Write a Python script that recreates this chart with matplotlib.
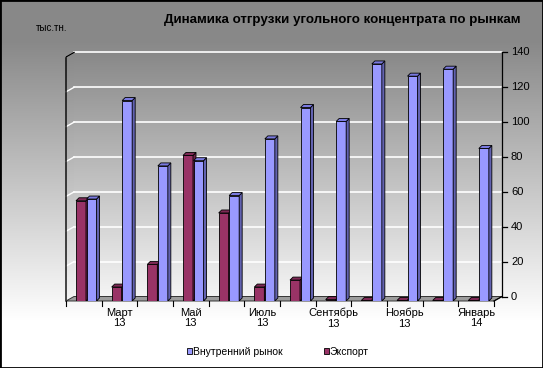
import numpy as np
import matplotlib
matplotlib.use('Agg')
import matplotlib.pyplot as plt
from matplotlib.patches import Polygon, Rectangle

plt.rcParams['font.family'] = ['Liberation Sans', 'DejaVu Sans']

# ---- data ----
months = ['Февраль\n13', 'Март\n13', 'Апрель\n13', 'Май\n13', 'Июнь\n13', 'Июль\n13',
          'Август\n13', 'Сентябрь\n13', 'Октябрь\n13', 'Ноябрь\n13', 'Декабрь\n13', 'Январь\n14']
domestic = [58.5, 115, 77.5, 80.5, 60.5, 93, 111, 103, 136, 129, 133, 87.5]
export = [57.5, 8, 21, 83.5, 50.5, 8, 12, 0.8, 0.3, 0.3, 0.3, 0.3]
series_names = ['Внутренний рынок', 'Экспорт']
yticks = [0, 20, 40, 60, 80, 100, 120, 140]
title = 'Динамика отгрузки угольного концентрата по рынкам'
unit = 'тыс.тн.'

W, H = 543, 368
fig = plt.figure(figsize=(W / 100, H / 100), dpi=100)

# figure background gradient
bg = fig.add_axes([0, 0, 1, 1], zorder=-10)
rows = np.arange(H)
t = np.clip((rows - 40) / 280.0, 0, 1)
g = (0x88 + t * (0xff - 0x88)) / 255.0
img = np.repeat(g[:, None], 2, axis=1)
bg.imshow(np.dstack([img, img, img]), aspect='auto', extent=[0, 1, 0, 1], origin='upper')
bg.set_axis_off()

# geometry in pixels
x0, x1 = 66, 494
ybase = 301
ppu_y = 1.743
ncat = len(months)
ppu_x = (x1 - x0) / ncat
ytop_px = 40
ax = fig.add_axes([x0 / W, (H - ybase) / H, (x1 - x0) / W, (ybase - ytop_px) / H])
ax.set_xlim(-0.5, ncat - 0.5)
ax.set_ylim(0, (ybase - ytop_px) / ppu_y)
ax.set_axis_off()

DX = 8 / ppu_x
DY = 4.5 / ppu_y
bdx = 3 / ppu_x
bdy = 3 / ppu_y
ymax = 140

# back wall gradient
wall_g = np.linspace(0x88, 0xf4, 200) / 255.0
wimg = np.repeat(wall_g[:, None], 2, axis=1)
wall_rgb = np.dstack([wimg, wimg, wimg])
ax.imshow(wall_rgb, aspect='auto', extent=[-0.5 + DX, ncat - 0.5 + DX, DY, ymax + DY],
          origin='upper', zorder=0, clip_on=False)
# left wall
lw_poly = Polygon([(-0.5, 0), (-0.5, ymax), (-0.5 + DX, ymax + DY), (-0.5 + DX, DY)],
                  closed=True, fc='none', ec='none', transform=ax.transData)
ax.add_patch(lw_poly)
im2 = ax.imshow(wall_rgb, aspect='auto', extent=[-0.5, -0.5 + DX, 0, ymax + DY],
                origin='upper', zorder=0.5, clip_on=True)
im2.set_clip_path(lw_poly)
ax.plot([-0.5, -0.5, -0.5 + DX], [0, ymax, ymax + DY], color='black', lw=1.0, zorder=1,
        clip_on=False)

# floor
floor = Polygon([(-0.5, 0), (ncat - 0.5, 0), (ncat - 0.5 + DX, DY), (-0.5 + DX, DY)],
                closed=True, fc='#9c9c9c', ec='#333333', lw=0.7, zorder=1, clip_on=False)
ax.add_patch(floor)

# gridlines
for v in yticks[1:]:
    ax.plot([-0.5 + DX, ncat - 0.5 + DX], [v + DY, v + DY], color='white', lw=1.2, zorder=0.8,
            clip_on=False)
    ax.plot([-0.5, -0.5 + DX], [v, v + DY], color='white', lw=1.0, zorder=0.9, clip_on=False)

# right axis
xr = ncat - 0.5 + DX
ax.plot([xr, xr], [DY, ymax + DY], color='black', lw=0.9, zorder=1, clip_on=False)
ax.plot([ncat - 0.5, xr], [0, DY], color='black', lw=0.9, zorder=1, clip_on=False)
tick_len = 5 / ppu_x
for v in yticks:
    ax.plot([xr, xr + tick_len], [v + DY, v + DY], color='black', lw=0.9, clip_on=False)
    ax.text(xr + 9 / ppu_x, v + DY, str(v), ha='left', va='center', fontsize=8, clip_on=False)

# x ticks
for k in range(ncat + 1):
    ax.plot([k - 0.5, k - 0.5], [0, -5 / ppu_y], color='black', lw=0.8, clip_on=False)
for i in range(1, ncat, 2):
    ax.text(i, -7 / ppu_y, months[i], ha='center', va='top', fontsize=8, linespacing=1.05,
            clip_on=False)

# bars
specs = [
    (export, 10 / ppu_x, '#993366', '#6e2349', '#7d2955', series_names[1]),
    (domestic, 20.5 / ppu_x, '#9999ff', '#6262b0', '#7a7ae0', series_names[0]),
]
bw = 10 / ppu_x
handles = {}
for i in range(ncat):
    for vals, off, fc, sc, tc, name in specs:
        left = i - 0.5 + off
        v = vals[i]
        b = ax.bar([left], [v], width=bw, align='edge', color=fc, edgecolor='black',
                   lw=0.6, zorder=3, label=name)
        handles[name] = b
        side = Polygon([(left + bw, 0), (left + bw + bdx, bdy), (left + bw + bdx, v + bdy),
                        (left + bw, v)], closed=True, fc=sc, ec='black', lw=0.6, zorder=3)
        top = Polygon([(left, v), (left + bw, v), (left + bw + bdx, v + bdy),
                       (left + bdx, v + bdy)], closed=True, fc=tc, ec='black', lw=0.6, zorder=3)
        ax.add_patch(side)
        ax.add_patch(top)

# legend
leg = fig.legend([handles[series_names[0]], handles[series_names[1]]], series_names,
                 loc='center', bbox_to_anchor=(278 / W, 1 - 352 / H), ncol=2, frameon=False,
                 fontsize=7.5, handlelength=0.5, handleheight=0.5, handletextpad=0.1,
                 columnspacing=3.9)

# texts
fig.text(521 / W, 1 - 20 / H, title, ha='right', va='center', fontsize=9.6, fontweight='bold')
fig.text(36 / W, 1 - 28 / H, unit, ha='left', va='center', fontsize=7)

# border
fig.patches.append(Rectangle((0, 0), 1, 1, transform=fig.transFigure, fill=False,
                             ec='black', lw=2, zorder=20))

fig.savefig('out.png', dpi=100)
